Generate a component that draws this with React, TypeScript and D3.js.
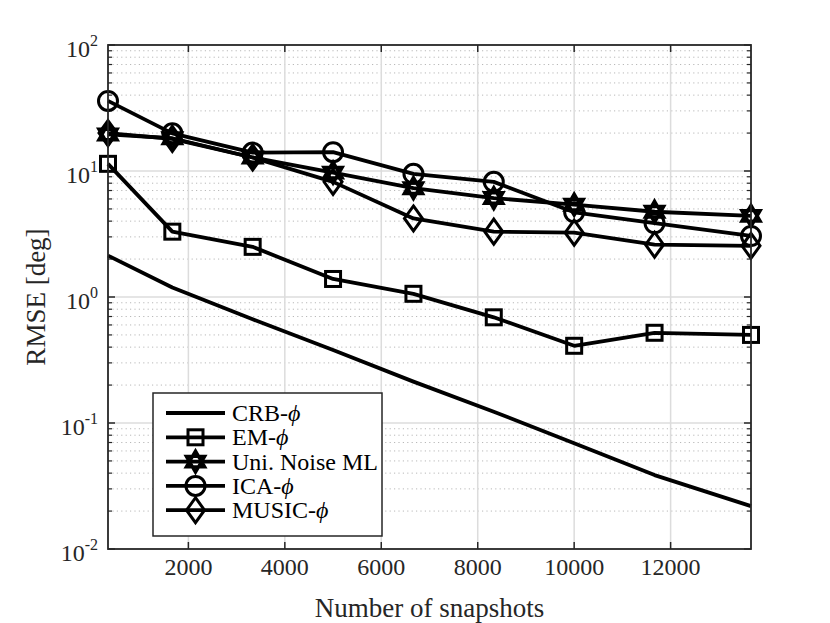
import * as React from 'react';
import * as d3 from 'd3';

// values
const snapshots = [333, 1667, 3333, 5000, 6667, 8333, 10000, 11667, 13667];
const crb = [2.13, 1.19, 0.665, 0.379, 0.213, 0.123, 0.069, 0.0386, 0.0219];
const em = [11.4, 3.3, 2.5, 1.39, 1.06, 0.69, 0.41, 0.52, 0.5];
const uniNoise = [19.5, 18.2, 12.8, 9.7, 7.3, 6.1, 5.4, 4.75, 4.4];
const ica = [36, 19.9, 14.0, 14.1, 9.5, 8.2, 4.7, 3.85, 3.05];
const music = [20, 18, 12.8, 8.2, 4.2, 3.3, 3.24, 2.6, 2.55];

const xTicks = [2000, 4000, 6000, 8000, 10000, 12000];
const yDecades = [-2, -1, 0, 1, 2];

type Marker = 'none' | 'square' | 'hexagram' | 'circle' | 'diamond';

interface Series {
  name: string;
  values: number[];
  marker: Marker;
}

const series: Series[] = [
  { name: 'CRB-', values: crb, marker: 'none' },
  { name: 'EM-', values: em, marker: 'square' },
  { name: 'Uni. Noise ML', values: uniNoise, marker: 'hexagram' },
  { name: 'ICA-', values: ica, marker: 'circle' },
  { name: 'MUSIC-', values: music, marker: 'diamond' },
];

const W = 830, H = 623;
const left = 108, right = 751, top = 45, bottom = 549;
const FONT = '"Liberation Serif", "Times New Roman", serif';
const AXIS = '#262626';

function hexagramPath(r: number) {
  const pts = (off: number) => d3.range(3).map(i => {
    const a = off + i * 2 * Math.PI / 3;
    return [r * Math.sin(a), -r * Math.cos(a)];
  });
  const tri = (p: number[][]) => 'M' + p.map(q => q.join(',')).join('L') + 'Z';
  return tri(pts(0)) + tri(pts(Math.PI));
}

function MarkerShape({ type, x, y }: { type: Marker; x: number; y: number }) {
  const common = { fill: 'none', stroke: '#000', strokeWidth: 3 };
  if (type === 'square') return <rect x={x - 7.5} y={y - 7.5} width={15} height={15} {...common} />;
  if (type === 'circle') return <circle cx={x} cy={y} r={9.5} {...common} />;
  if (type === 'diamond') return <path d={`M${x},${y - 12.5}L${x + 9},${y}L${x},${y + 12.5}L${x - 9},${y}Z`} {...common} />;
  if (type === 'hexagram') return <path transform={`translate(${x},${y})`} d={hexagramPath(10.5)} {...common} strokeWidth={3.4} />;
  return null;
}

export default function App() {
  React.useEffect(() => {
    document.body.style.margin = '0';
  }, []);

  const x = d3.scaleLinear().domain([333, 13667]).range([left, right]);
  const y = d3.scaleLog().domain([0.01, 100]).range([bottom, top]);

  const line = d3.line<number>()
    .x((_, i) => x(snapshots[i]))
    .y(d => y(d));

  const minorVals: number[] = [];
  yDecades.slice(0, -1).forEach(p => {
    for (let k = 2; k <= 9; k++) minorVals.push(k * Math.pow(10, p));
  });

  const legX = 153, legY = 393, legW = 229, legH = 143;
  const rowY = (i: number) => 413 + i * 24.3;

  return (
    <svg width={W} height={H} style={{ display: 'block', background: '#fff' }}>
      <rect x={left} y={top} width={right - left} height={bottom - top} fill="#fff" />

      {/* minor grid */}
      {minorVals.map(v => (
        <line key={'mg' + v} x1={left} x2={right} y1={y(v)} y2={y(v)}
          stroke="#b8b8b8" strokeWidth={1} strokeDasharray="1.2,3.2" />
      ))}
      {/* major grid */}
      {yDecades.slice(1, -1).map(p => (
        <line key={'yg' + p} x1={left} x2={right} y1={y(Math.pow(10, p))} y2={y(Math.pow(10, p))}
          stroke="#dcdcdc" strokeWidth={1.5} />
      ))}
      {xTicks.map(t => (
        <line key={'xg' + t} x1={x(t)} x2={x(t)} y1={top} y2={bottom} stroke="#dcdcdc" strokeWidth={1.5} />
      ))}

      {/* ticks */}
      {xTicks.map(t => (
        <g key={'xt' + t} stroke={AXIS} strokeWidth={1.5}>
          <line x1={x(t)} x2={x(t)} y1={bottom} y2={bottom - 7} />
          <line x1={x(t)} x2={x(t)} y1={top} y2={top + 7} />
        </g>
      ))}
      {yDecades.map(p => (
        <g key={'yt' + p} stroke={AXIS} strokeWidth={1.5}>
          <line x1={left} x2={left + 7} y1={y(Math.pow(10, p))} y2={y(Math.pow(10, p))} />
          <line x1={right} x2={right - 7} y1={y(Math.pow(10, p))} y2={y(Math.pow(10, p))} />
        </g>
      ))}
      {minorVals.map(v => (
        <g key={'ym' + v} stroke={AXIS} strokeWidth={1.2}>
          <line x1={left} x2={left + 4} y1={y(v)} y2={y(v)} />
          <line x1={right} x2={right - 4} y1={y(v)} y2={y(v)} />
        </g>
      ))}

      {/* data lines */}
      {series.map(s => (
        <path key={'l' + s.name} d={line(s.values) || ''} fill="none" stroke="#000" strokeWidth={3.8} strokeLinejoin="round" />
      ))}
      {series.map(s => s.values.map((v, i) => (
        <MarkerShape key={s.name + i} type={s.marker} x={x(snapshots[i])} y={y(v)} />
      )))}

      {/* box */}
      <rect x={left} y={top} width={right - left} height={bottom - top} fill="none" stroke={AXIS} strokeWidth={1.8} />

      {/* tick labels */}
      {xTicks.map(t => (
        <text key={'xl' + t} x={x(t)} y={575} textAnchor="middle" fontSize={24} fontFamily={FONT} fill={AXIS}>{t}</text>
      ))}
      {yDecades.map(p => (
        <text key={'yl' + p} x={98} y={y(Math.pow(10, p)) + 12} textAnchor="end" fontSize={24} fontFamily={FONT} fill={AXIS}>
          10<tspan dy={-11} fontSize={16}>{p}</tspan>
        </text>
      ))}

      {/* axis titles */}
      <text x={(left + right) / 2} y={617} textAnchor="middle" fontSize={27} fontFamily={FONT} fill={AXIS}>Number of snapshots</text>
      <text transform={`translate(45,${(top + bottom) / 2}) rotate(-90)`} textAnchor="middle" fontSize={27} fontFamily={FONT} fill={AXIS}>RMSE [deg]</text>

      {/* legend */}
      <rect x={legX} y={legY} width={legW} height={legH} fill="#fff" stroke={AXIS} strokeWidth={1.5} />
      {series.map((s, i) => (
        <g key={'lg' + s.name}>
          <line x1={166} x2={225} y1={rowY(i)} y2={rowY(i)} stroke="#000" strokeWidth={3.8} />
          <MarkerShape type={s.marker} x={195.5} y={rowY(i)} />
          <text x={232} y={rowY(i) + 8} fontSize={24} fontFamily={FONT} fill="#000">
            {s.name}
            {s.marker !== 'hexagram' && <tspan fontStyle="italic">ϕ</tspan>}
          </text>
        </g>
      ))}
    </svg>
  );
}
